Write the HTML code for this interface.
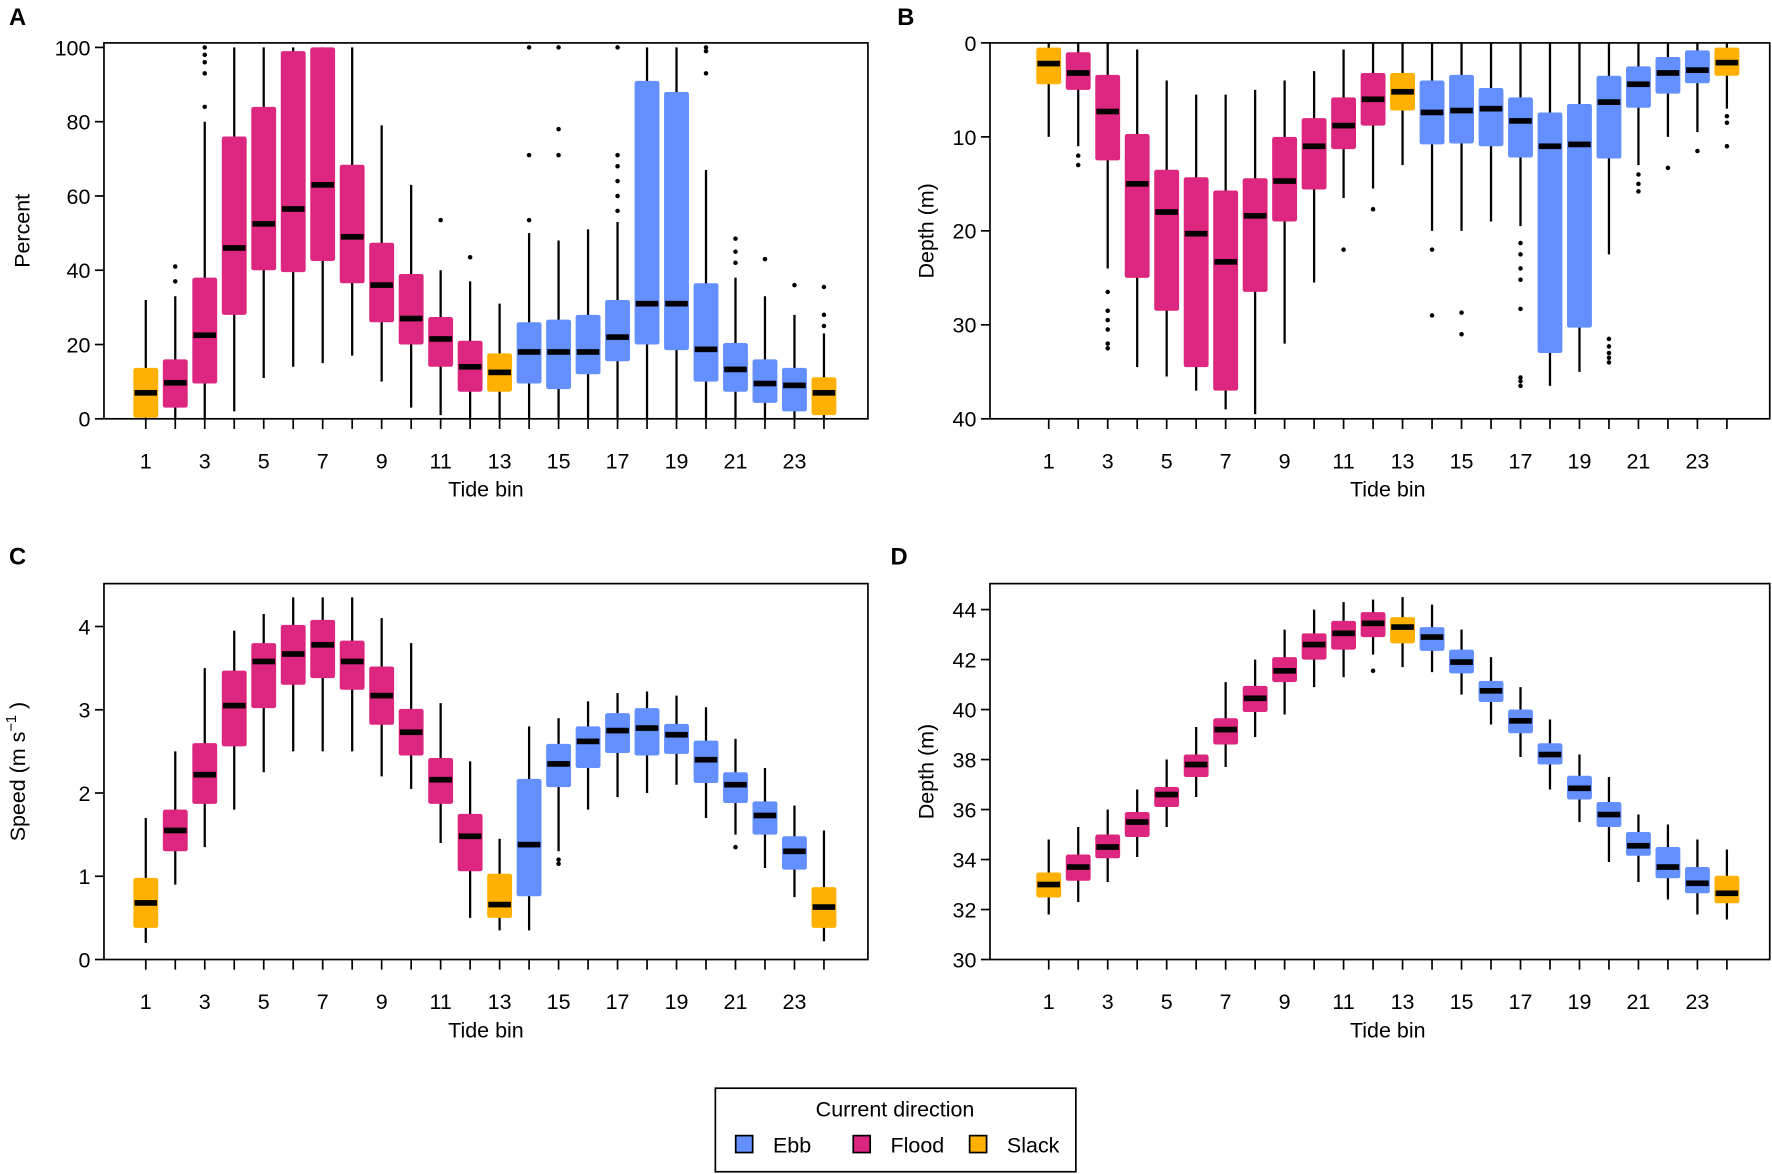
<!DOCTYPE html>
<html><head><meta charset="utf-8">
<style>
html,body{margin:0;padding:0;background:#fff;}
svg{display:block;font-family:"Liberation Sans",Arial,sans-serif;}
</style></head>
<body>
<svg id="fig" width="1772" height="1174" viewBox="0 0 1568 1040" preserveAspectRatio="none" xmlns="http://www.w3.org/2000/svg">
<rect width="1568" height="1040" fill="#fff"/>
<g>
<rect x="633" y="964" width="319" height="74" fill="#fff" stroke="#000" stroke-width="1.5"/>
<text x="792" y="989" font-size="19" text-anchor="middle">Current direction</text>
<g><rect x="651" y="1006" width="15" height="15" fill="#648FFF" stroke="#000" stroke-width="1.5"/><text x="684" y="1021" font-size="19">Ebb</text></g>
<g><rect x="755" y="1006" width="15" height="15" fill="#DC267F" stroke="#000" stroke-width="1.5"/><text x="788" y="1021" font-size="19">Flood</text></g>
<g><rect x="858" y="1006" width="15" height="15" fill="#FFB000" stroke="#000" stroke-width="1.5"/><text x="891" y="1021" font-size="19">Slack</text></g>
</g>
</svg>
<script>
const bins=[1,2,3,4,5,6,7,8,9,10,11,12,13,14,15,16,17,18,19,20,21,22,23,24];
const direction=["S","F","F","F","F","F","F","F","F","F","F","F","S","E","E","E","E","E","E","E","E","E","E","S"];
// Panel A: percent
const aLow=[0,0,0,2,11,14,15,17,10,3,1,0,0,0,0,0,0,0,0,0,0,0,0,0];
const aQ1=[0.3,3,9.5,28,40,39.5,42.5,36.5,26,20,14,7.3,7.3,9.5,8,12,15.5,20,18.5,10,7.3,4.3,2,1];
const aMed=[7,9.7,22.5,46,52.5,56.5,63,49,36,27,21.5,14,12.5,18,18,18,22,31,31,18.7,13.3,9.5,9,7];
const aQ3=[13.7,16,38,76,84,99,100,68.4,47.4,39,27.4,21,17.6,26,26.7,28,32,91,88,36.5,20.4,16,13.7,11.2];
const aHigh=[32,33,80,100,100,100,100,100,79,63,40,37,31,50,48,51,53,100,100,67,38,33,28,23];
const aOut=[[],[37,41],[84,93,96,98,100],[],[],[],[],[],[],[],[53.5],[43.5],[],[53.5,71,100],[71,78,100],[],[56,60,64,68,71,100],[],[],[93,99,100],[42,45,48.5],[43],[36],[25,28,35.5]];
// Panel B: depth (reversed)
const bLow=[0,0,0,0.7,4,5.5,5.5,5,4,3,0.7,0,0,0,0,0,0,0,0,0,0,0,0,0];
const bQ1=[0.5,1,3.4,9.7,13.5,14.3,15.7,14.4,10,8,5.8,3.2,3.2,4,3.4,4.8,5.8,7.4,6.5,3.5,2.5,1.5,0.8,0.5];
const bMed=[2.2,3.2,7.3,15,18,20.3,23.3,18.4,14.7,11,8.8,6,5.2,7.4,7.2,7,8.3,11,10.8,6.3,4.4,3.2,2.9,2.1];
const bQ3=[4.4,5,12.5,25,28.5,34.5,37,26.5,19,15.6,11.3,8.8,7.2,10.8,10.7,11,12.2,33,30.3,12.3,6.9,5.4,4.3,3.5];
const bHigh=[10,11,24,34.5,35.5,37,39,39.5,32,25.5,16.5,15.5,13,20,20,19,19.5,36.5,35,22.5,13,10,9.5,7];
const bOut=[[],[12,13],[26.5,28.5,29.5,30.5,32,32.5],[],[],[],[],[],[],[],[22],[17.7],[],[22,29],[28.7,31],[],[21.3,22.5,24,25.2,28.3,35.6,36,36.5],[],[],[31.5,32.3,33,33.5,34],[14,15,15.8],[13.3],[11.5],[7.8,8.5,11]];
// Panel C: speed
const cLow=[0.2,0.9,1.35,1.8,2.25,2.5,2.5,2.5,2.2,2.05,1.4,0.5,0.35,0.35,1.3,1.8,1.95,2.0,2.1,1.7,1.5,1.1,0.75,0.22];
const cQ1=[0.38,1.3,1.87,2.56,3.02,3.3,3.38,3.24,2.82,2.45,1.87,1.06,0.5,0.76,2.07,2.3,2.48,2.45,2.47,2.12,1.88,1.5,1.08,0.38];
const cMed=[0.68,1.55,2.22,3.05,3.58,3.67,3.78,3.58,3.17,2.73,2.16,1.48,0.66,1.38,2.35,2.62,2.75,2.78,2.7,2.4,2.1,1.73,1.3,0.63];
const cQ3=[0.98,1.8,2.6,3.47,3.8,4.02,4.08,3.83,3.52,3.01,2.42,1.75,1.03,2.17,2.59,2.8,2.96,3.02,2.83,2.63,2.25,1.9,1.48,0.87];
const cHigh=[1.7,2.5,3.5,3.95,4.15,4.35,4.35,4.35,4.1,3.8,3.08,2.38,1.45,2.8,2.9,3.1,3.2,3.22,3.17,3.03,2.65,2.3,1.85,1.55];
const cOut=[[],[],[],[],[],[],[],[],[],[],[],[],[],[],[1.2,1.15],[],[],[],[],[],[1.35],[],[],[]];
// Panel D: depth
const dLow=[31.8,32.3,33.1,34.1,35.3,36.5,37.7,38.9,39.8,40.9,41.3,42.2,41.7,41.5,40.6,39.4,38.1,36.8,35.5,33.9,33.1,32.4,31.8,31.6];
const dQ1=[32.48,33.15,34.05,34.9,36.1,37.3,38.6,39.9,41.1,42,42.4,42.9,42.65,42.35,41.45,40.3,39.05,37.8,36.4,35.3,34.15,33.25,32.65,32.25];
const dMed=[33.0,33.7,34.5,35.5,36.6,37.8,39.2,40.45,41.55,42.6,43.05,43.45,43.3,42.9,41.9,40.75,39.55,38.2,36.85,35.8,34.55,33.7,33.05,32.65];
const dQ3=[33.48,34.2,35,35.9,36.9,38.2,39.65,40.95,42.1,43.05,43.55,43.9,43.7,43.3,42.4,41.15,40.0,38.65,37.35,36.3,35.1,34.5,33.7,33.35];
const dHigh=[34.8,35.3,36,36.8,38,39.3,41.1,42,43.2,44,44.3,44.4,44.5,44.2,43.2,42.1,40.9,39.6,38.2,37.3,35.8,35.4,34.8,34.4];
const dOut=[[],[],[],[],[],[],[],[],[],[],[],[41.55],[],[],[],[],[],[],[],[],[],[],[],[]];
const aTicks=[0,20,40,60,80,100], bTicks=[0,10,20,30,40], cTicks=[0,1,2,3,4], dTicks=[30,32,34,36,38,40,42,44];

const NS="http://www.w3.org/2000/svg";
const svg=document.getElementById('fig');
const colors={E:"#648FFF",F:"#DC267F",S:"#FFB000"};
const dirNames={E:"ebb",F:"flood",S:"slack"};
function mk(tag,attrs,parent){const e=document.createElementNS(NS,tag);for(const k in attrs)e.setAttribute(k,attrs[k]);(parent||svg).appendChild(e);return e;}

function panel(cfg){
  const g=mk('g',{});
  
  
  const L=cfg.left,R=cfg.right,T=cfg.top,B=cfg.bottom;
  const x=b=>cfg.x1+(b-1)*(cfg.x23-cfg.x1)/22;
  const y=v=>cfg.y0+(v-cfg.v0)*(cfg.y1-cfg.y0)/(cfg.v1-cfg.v0);
  const lab=mk('text',{x:cfg.lx,y:cfg.ly,'font-size':21,'font-weight':'bold'},g);lab.textContent=cfg.id;
  
  
  // boxes
  bins.forEach((b,i)=>{
    const bx=mk('g',{},g);
    
    
    const cx=x(b),w=22;
    mk('line',{x1:cx,x2:cx,y1:y(cfg.low[i]),y2:y(cfg.high[i]),stroke:'#000','stroke-width':2},bx);
    const ya=y(cfg.q1[i]),yb=y(cfg.q3[i]);
    mk('rect',{x:cx-w/2,y:Math.min(ya,yb),width:w,height:Math.abs(yb-ya),fill:colors[direction[i]],rx:2},bx);
    mk('rect',{x:cx-w/2+1,y:y(cfg.med[i])-2.5,width:w-2,height:5,fill:'#000'},bx);
    cfg.out[i].forEach(o=>{
      const d=mk('circle',{cx:cx,cy:y(o),r:2,fill:'#000'},bx);
      
      
    });
  });
  const fr=mk('rect',{x:L,y:T,width:R-L,height:B-T,fill:'none',stroke:'#000','stroke-width':1.5},g);
  
  
  // x axis
  const xa=mk('g',{},g);
  
  
  bins.forEach(b=>{
    mk('line',{x1:x(b),x2:x(b),y1:B,y2:B+9,stroke:'#000','stroke-width':1.5},xa);
    if(b%2===1){const t=mk('text',{x:x(b),y:B+44,'font-size':19,'text-anchor':'middle'},xa);t.textContent=b;}
  });
  const xt=mk('text',{x:cfg.xtc,y:B+69,'font-size':19,'text-anchor':'middle'},g);xt.textContent='Tide bin';
  
  
  // y axis
  const ya2=mk('g',{},g);
  
  
  cfg.ticks.forEach(v=>{
    mk('line',{x1:L,x2:L-8,y1:y(v),y2:y(v),stroke:'#000','stroke-width':1.5},ya2);
    const t=mk('text',{x:L-12,y:y(v)+7,'font-size':19,'text-anchor':'end'},ya2);t.textContent=v;
  });
  const yt=mk('text',{x:0,y:0,'font-size':19,'text-anchor':'middle',transform:`translate(${cfg.ytx},${(T+B)/2}) rotate(-90)`},g);
  
  
  if(cfg.speed){yt.innerHTML='Speed (m s<tspan dy="-8" font-size="13">−1</tspan><tspan dy="8"> )</tspan>';}
  else yt.textContent=cfg.ytitle;
}
panel({id:'A',left:92,right:768,top:38,bottom:371,x1:129,x23:703,v0:0,v1:100,y0:371,y1:42,ticks:aTicks,low:aLow,q1:aQ1,med:aMed,q3:aQ3,high:aHigh,out:aOut,lx:8,ly:22,xtc:430,ytx:26,ytitle:'Percent'});
panel({id:'B',left:876,right:1566,top:38,bottom:371,x1:928,x23:1502,v0:0,v1:40,y0:38,y1:371,ticks:bTicks,low:bLow,q1:bQ1,med:bMed,q3:bQ3,high:bHigh,out:bOut,lx:794,ly:22,xtc:1228,ytx:826,ytitle:'Depth (m)'});
panel({id:'C',left:92,right:768,top:517,bottom:850,x1:129,x23:703,v0:0,v1:4,y0:850,y1:555,ticks:cTicks,low:cLow,q1:cQ1,med:cMed,q3:cQ3,high:cHigh,out:cOut,lx:8,ly:500,xtc:430,ytx:22,speed:true});
panel({id:'D',left:876,right:1566,top:517,bottom:850,x1:928,x23:1502,v0:30,v1:44,y0:850,y1:540,ticks:dTicks,low:dLow,q1:dQ1,med:dMed,q3:dQ3,high:dHigh,out:dOut,lx:788,ly:500,xtc:1228,ytx:826,ytitle:'Depth (m)'});
</script>
</body></html>
